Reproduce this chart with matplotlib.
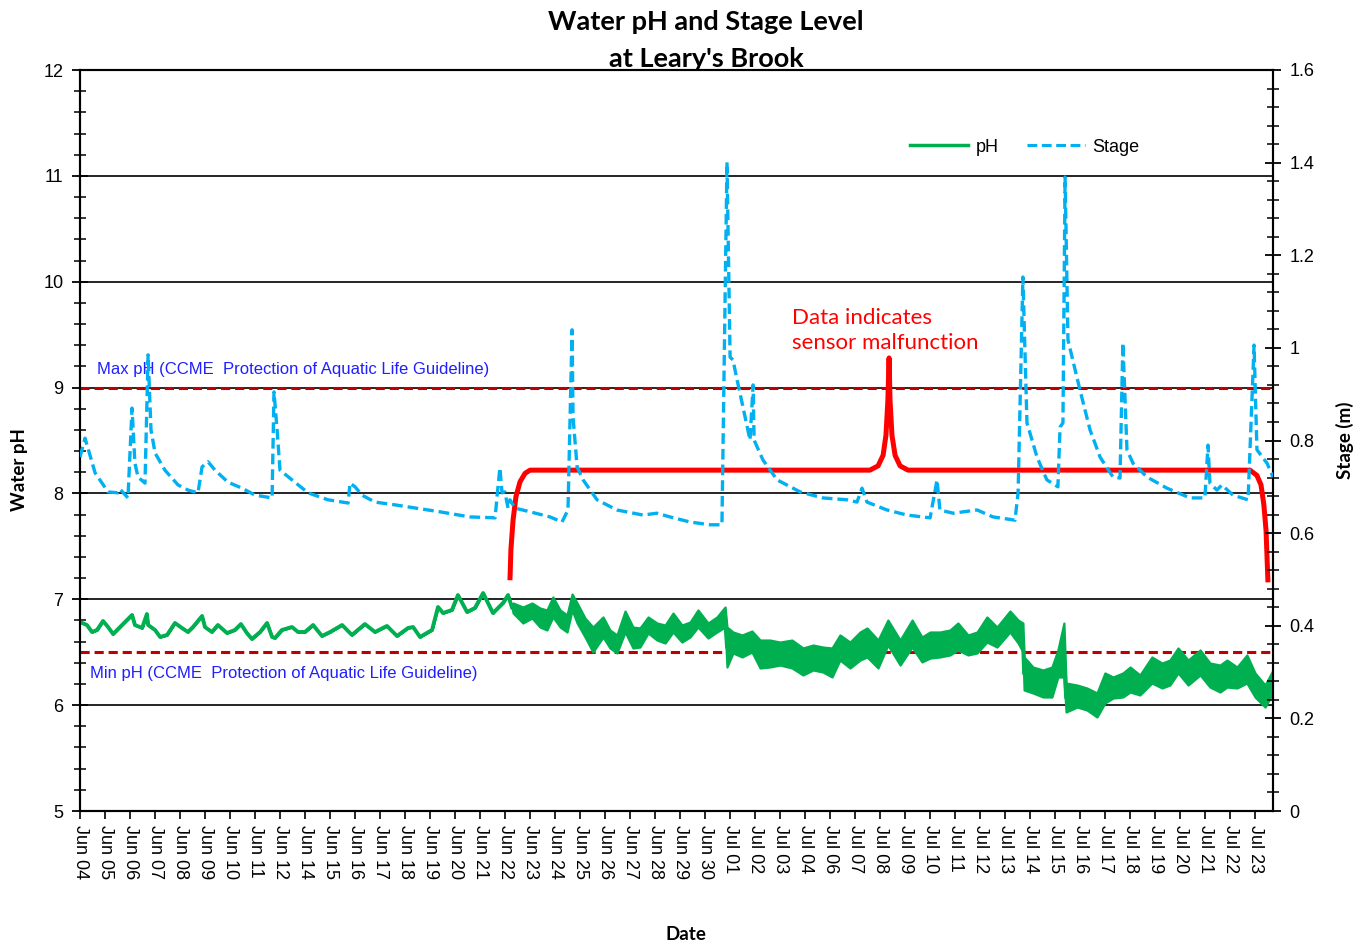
import matplotlib
matplotlib.use("Agg")
import matplotlib.pyplot as plt
from matplotlib.lines import Line2D
import numpy as np

# ---------------- data (days since Jun 04 00:00) ----------------
tick_labels = ["Jun 04", "Jun 05", "Jun 06", "Jun 07", "Jun 08", "Jun 09", "Jun 10", "Jun 11",
               "Jun 12", "Jun 14", "Jun 15", "Jun 16", "Jun 17", "Jun 18", "Jun 19", "Jun 20",
               "Jun 21", "Jun 22", "Jun 23", "Jun 24", "Jun 25", "Jun 26", "Jun 27", "Jun 28",
               "Jun 29", "Jun 30", "Jul 01", "Jul 02", "Jul 03", "Jul 04", "Jul 06", "Jul 07",
               "Jul 08", "Jul 09", "Jul 10", "Jul 11", "Jul 12", "Jul 13", "Jul 14", "Jul 15",
               "Jul 16", "Jul 17", "Jul 18", "Jul 19", "Jul 20", "Jul 21", "Jul 22", "Jul 23"]

stage_day = [0.00, 0.21, 0.63, 1.17, 1.58, 1.67, 2.00, 2.17, 2.29, 2.42, 2.71, 2.84, 2.96, 3.13,
             3.54, 4.09, 4.50, 4.92, 5.09, 5.34, 5.63, 6.17, 6.76, 7.30, 8.01, 8.09, 8.22, 8.34,
             8.84, 9.51, 10.34, 11.18, 11.26, 11.47, 11.76, 12.30, 13.14, 13.76, 15.01, 16.26,
             17.31, 17.39, 17.51, 17.60, 17.72, 17.85, 17.93, 18.14, 18.77, 19.60, 20.10, 20.35,
             20.52, 20.56, 20.73, 20.98, 21.56, 22.39, 23.48, 24.06, 24.60, 25.44, 26.27, 26.77,
             26.98, 27.11, 27.23, 27.40, 27.52, 27.94, 28.07, 28.11, 28.48, 29.07, 30.03, 30.98,
             31.98, 32.40, 32.61, 32.82, 33.65, 34.49, 35.45, 35.74, 35.86, 36.41, 37.41, 38.07,
             38.99, 39.12, 39.32, 39.49, 39.91, 40.32, 40.78, 40.87, 40.99, 41.08, 41.20, 41.70,
             42.12, 42.54, 43.08, 43.37, 43.49, 43.66, 43.91, 44.50, 45.33, 46.29, 46.91, 47.04,
             47.12, 47.41, 47.62, 48.08, 48.71, 48.96, 49.08, 49.50, 49.75]
stage_m = [0.764, 0.805, 0.730, 0.689, 0.687, 0.695, 0.676, 0.870, 0.751, 0.721, 0.708, 0.985,
           0.823, 0.773, 0.736, 0.704, 0.693, 0.687, 0.743, 0.754, 0.736, 0.710, 0.697, 0.682,
           0.676, 0.905, 0.823, 0.736, 0.715, 0.687, 0.672, 0.665, 0.708, 0.700, 0.682, 0.667,
           0.661, 0.656, 0.646, 0.635, 0.633, 0.678, 0.741, 0.687, 0.689, 0.654, 0.672, 0.654,
           0.646, 0.635, 0.624, 0.650, 1.039, 0.851, 0.743, 0.715, 0.672, 0.650, 0.639, 0.643,
           0.635, 0.624, 0.618, 0.618, 1.401, 0.980, 0.974, 0.931, 0.903, 0.801, 0.920, 0.801,
           0.758, 0.715, 0.689, 0.676, 0.672, 0.667, 0.697, 0.667, 0.650, 0.639, 0.633, 0.715,
           0.650, 0.643, 0.650, 0.635, 0.628, 0.687, 1.153, 0.838, 0.764, 0.715, 0.700, 0.829,
           0.838, 1.369, 1.017, 0.909, 0.823, 0.764, 0.721, 0.719, 1.011, 0.780, 0.751, 0.721,
           0.697, 0.676, 0.676, 0.790, 0.708, 0.693, 0.704, 0.682, 0.672, 1.006, 0.780, 0.751,
           0.721]

# pH: upper and lower envelope of the record (equal where the trace is a single line)
ph_day = [0.00, 0.29, 0.50, 0.71, 0.96, 1.17, 1.38, 1.75, 2.17, 2.29, 2.59, 2.79, 2.84, 3.13,
          3.34, 3.63, 3.96, 4.25, 4.50, 4.71, 5.09, 5.21, 5.50, 5.75, 6.13, 6.46, 6.71, 6.96,
          7.17, 7.51, 7.80, 8.01, 8.13, 8.42, 8.84, 9.09, 9.38, 9.72, 10.09, 10.43, 10.93, 11.34,
          11.88, 12.30, 12.80, 13.22, 13.68, 13.89, 14.18, 14.68, 14.93, 15.14, 15.51, 15.76,
          16.14, 16.47, 16.81, 17.22, 17.43, 17.64, 17.85, 18.02,
          18.06, 18.47, 18.85, 19.18, 19.47, 19.72, 20.02, 20.31, 20.52, 20.73, 21.06, 21.39,
          21.81, 22.10, 22.39, 22.73, 23.06, 23.35, 23.69, 24.06, 24.40, 24.73, 25.10, 25.44,
          25.77, 26.19, 26.56, 26.90, 26.98, 27.23, 27.61, 28.02, 28.36, 28.77, 29.19, 29.69,
          30.15, 30.57, 30.98, 31.36, 31.69, 32.11, 32.53, 32.82, 33.28, 33.69, 34.20, 34.70,
          35.11, 35.45, 35.86, 36.28, 36.61, 37.03, 37.41, 37.82, 38.24, 38.78, 39.12, 39.32,
          39.37, 39.74, 40.16, 40.53, 40.78, 41.03, 41.12, 41.58, 41.99, 42.41, 42.74, 43.08,
          43.49, 43.79, 44.20, 44.70, 45.12, 45.45, 45.79, 46.21, 46.71, 47.12, 47.54, 47.83,
          48.25, 48.66, 49.00, 49.42, 49.75]
ph_hi = [6.785, 6.757, 6.691, 6.710, 6.795, 6.738, 6.672, 6.757, 6.852, 6.757, 6.729, 6.861,
         6.757, 6.710, 6.644, 6.663, 6.776, 6.729, 6.691, 6.738, 6.842, 6.738, 6.691, 6.757,
         6.681, 6.710, 6.766, 6.681, 6.625, 6.691, 6.776, 6.644, 6.634, 6.710, 6.738, 6.691,
         6.691, 6.757, 6.653, 6.691, 6.757, 6.663, 6.766, 6.691, 6.748, 6.653, 6.729, 6.738,
         6.644, 6.710, 6.927, 6.870, 6.899, 7.040, 6.880, 6.918, 7.059, 6.870, 6.918, 6.965,
         7.040, 6.918,
         6.965, 6.927, 6.965, 6.918, 6.899, 7.022, 6.899, 6.852, 7.050, 6.965, 6.823, 6.738,
         6.833, 6.710, 6.663, 6.889, 6.738, 6.729, 6.833, 6.776, 6.757, 6.870, 6.757, 6.785,
         6.899, 6.776, 6.833, 6.927, 6.738, 6.691, 6.663, 6.700, 6.615, 6.615, 6.596, 6.615,
         6.540, 6.568, 6.549, 6.540, 6.663, 6.596, 6.691, 6.729, 6.615, 6.804, 6.615, 6.804,
         6.644, 6.691, 6.691, 6.710, 6.776, 6.663, 6.691, 6.833, 6.738, 6.889, 6.804, 6.776,
         6.455, 6.360, 6.332, 6.360, 6.521, 6.776, 6.209, 6.190, 6.162, 6.115, 6.304, 6.266,
         6.304, 6.360, 6.285, 6.455, 6.398, 6.426, 6.540, 6.426, 6.521, 6.398, 6.379, 6.426,
         6.360, 6.474, 6.304, 6.190, 6.332]
ph_lo = [6.785, 6.757, 6.691, 6.710, 6.795, 6.738, 6.672, 6.757, 6.852, 6.757, 6.729, 6.861,
         6.757, 6.710, 6.644, 6.663, 6.776, 6.729, 6.691, 6.738, 6.842, 6.738, 6.691, 6.757,
         6.681, 6.710, 6.766, 6.681, 6.625, 6.691, 6.776, 6.644, 6.634, 6.710, 6.738, 6.691,
         6.691, 6.757, 6.653, 6.691, 6.757, 6.663, 6.766, 6.691, 6.748, 6.653, 6.729, 6.738,
         6.644, 6.710, 6.927, 6.870, 6.899, 7.040, 6.880, 6.918, 7.059, 6.870, 6.918, 6.965,
         7.040, 6.918,
         6.870, 6.776, 6.823, 6.738, 6.710, 6.833, 6.738, 6.691, 6.899, 6.776, 6.644, 6.502,
         6.644, 6.540, 6.493, 6.691, 6.540, 6.549, 6.681, 6.615, 6.587, 6.691, 6.596, 6.644,
         6.738, 6.634, 6.691, 6.738, 6.360, 6.493, 6.455, 6.502, 6.351, 6.360, 6.379, 6.351,
         6.285, 6.332, 6.313, 6.266, 6.426, 6.351, 6.426, 6.455, 6.351, 6.568, 6.379, 6.549,
         6.408, 6.445, 6.455, 6.474, 6.521, 6.474, 6.493, 6.596, 6.549, 6.691, 6.587, 6.502,
         6.143, 6.115, 6.077, 6.077, 6.266, 6.266, 5.935, 5.982, 5.954, 5.888, 6.020, 6.067,
         6.077, 6.124, 6.096, 6.209, 6.162, 6.190, 6.304, 6.190, 6.285, 6.171, 6.124, 6.171,
         6.162, 6.209, 6.077, 5.982, 6.115]

# guideline limits (CCME Protection of Aquatic Life)
ph_max_guideline = 9.0
ph_min_guideline = 6.5

# hand-drawn "sensor malfunction" bracket (days, pH)
bracket_day = [17.93, 17.97, 18.06, 18.18, 18.35, 18.56, 18.77, 32.94, 33.28, 33.49, 33.61,
               33.69, 33.74, 33.78, 33.86, 33.99, 34.20, 34.53, 48.79, 49.08, 49.25, 49.37,
               49.46, 49.54]
bracket_ph = [7.18, 7.47, 7.75, 7.97, 8.11, 8.19, 8.22, 8.22, 8.26, 8.36, 8.55, 8.88, 9.28,
              8.88, 8.55, 8.36, 8.26, 8.22, 8.22, 8.17, 8.08, 7.89, 7.65, 7.16]

# ---------------- styling ----------------
GREEN = "#00B050"
BLUE = "#00B0F0"
RED = "#FF0000"
DARKRED = "#C00000"
TXTBLUE = "#1F1FFF"
ARIAL = ["Liberation Sans", "DejaVu Sans"]
CAL = ["Lato", "DejaVu Sans"]

fig = plt.figure(figsize=(13.63, 9.44), dpi=100)
ax = fig.add_axes([80 / 1363, 1 - 811 / 944, (1273 - 80) / 1363, (811 - 70) / 944])
ax2 = ax.twinx()

x_end = 49.75
tick_step = 49 / 47

ax.set_xlim(0, x_end)
ax.set_ylim(5, 12)
ax2.set_ylim(0, 1.6)

# grid lines
for g in [6, 7, 8, 9, 10, 11]:
    ax.axhline(g, color="black", lw=1.2, zorder=1)

# guidelines
ax.axhline(ph_max_guideline, color=DARKRED, lw=2.2, ls=(0, (3, 1.6)), zorder=2)
ax.axhline(ph_min_guideline, color=DARKRED, lw=2.2, ls=(0, (3, 1.6)), zorder=2)

# pH record
ph_mid = [(h + l) / 2 for h, l in zip(ph_hi, ph_lo)]
ax.fill_between(ph_day, ph_lo, ph_hi, facecolor=GREEN, edgecolor=GREEN, lw=1.6, zorder=3)
ax.plot(ph_day, ph_mid, color=GREEN, lw=2.8, zorder=3, solid_joinstyle="round")

# bracket
ax.plot(bracket_day, bracket_ph, color=RED, lw=3.6, zorder=4, solid_capstyle="butt")

# stage record
ax2.plot(stage_day, stage_m, color=BLUE, lw=2.4, ls=(0, (3.2, 1.5)), zorder=5)

# texts
ax.text(0.72, 9.175, "Max pH (CCME  Protection of Aquatic Life Guideline)", color=TXTBLUE,
        fontsize=12, family=ARIAL, va="center", ha="left")
ax.text(0.42, 6.3, "Min pH (CCME  Protection of Aquatic Life Guideline)", color=TXTBLUE,
        fontsize=12, family=ARIAL, va="center", ha="left")
ax.text(29.7, 9.54, "Data indicates\nsensor malfunction", color=RED, fontsize=16,
        family=CAL, va="center", ha="left", linespacing=1.3)

# axes formatting
ax.set_xticks([k * tick_step for k in range(len(tick_labels))])
ax.set_xticklabels(tick_labels, rotation=-90, fontsize=13, family=ARIAL)
ax.tick_params(axis="x", direction="out", length=6, width=1.2, pad=4)
ax.set_yticks(range(5, 13))
ax.set_yticks(np.arange(5, 12.01, 0.2), minor=True)
ax.tick_params(axis="y", which="major", direction="inout", length=12, width=1.3, labelsize=13, pad=6)
ax.tick_params(axis="y", which="minor", direction="inout", length=8, width=1.1)
for lab in ax.get_yticklabels():
    lab.set_family(ARIAL)

ax2.set_yticks(np.arange(0, 1.61, 0.2))
ax2.set_yticklabels(["0", "0.2", "0.4", "0.6", "0.8", "1", "1.2", "1.4", "1.6"])
ax2.set_yticks(np.arange(0, 1.601, 0.04), minor=True)
ax2.tick_params(axis="y", which="major", direction="inout", length=12, width=1.3, labelsize=13, pad=6)
ax2.tick_params(axis="y", which="minor", direction="inout", length=8, width=1.1)
for lab in ax2.get_yticklabels():
    lab.set_family(ARIAL)

for a in (ax, ax2):
    for s in a.spines.values():
        s.set_linewidth(1.5)
        s.set_color("black")

# legend
handles = [Line2D([], [], color=GREEN, lw=2.5),
           Line2D([], [], color=BLUE, lw=2.2, ls=(0, (3.2, 1.5)))]
ax2.legend(handles, ["pH", "Stage"], loc="center", bbox_to_anchor=(0.792, 0.896), ncol=2,
           frameon=False, prop={"family": ARIAL, "size": 13}, handlelength=3.2,
           columnspacing=1.6, handletextpad=0.4)

# titles and axis labels
fig.text(706 / 1363, 1 - 22 / 944, "Water pH and Stage Level", ha="center", va="center",
         fontsize=19.5, fontweight="bold", family=CAL)
fig.text(706 / 1363, 1 - 59 / 944, "at Leary's Brook", ha="center", va="center",
         fontsize=19.5, fontweight="bold", family=CAL)
fig.text(20 / 1363, 1 - 470 / 944, "Water pH", rotation=90, ha="center", va="center",
         fontsize=13.5, fontweight="bold", family=CAL)
fig.text(1345 / 1363, 1 - 440 / 944, "Stage (m)", rotation=90, ha="center", va="center",
         fontsize=13.5, fontweight="bold", family=CAL)
fig.text(686 / 1363, 1 - 935 / 944, "Date", ha="center", va="center",
         fontsize=13.5, fontweight="bold", family=CAL)

fig.savefig("out.png", dpi=100)
